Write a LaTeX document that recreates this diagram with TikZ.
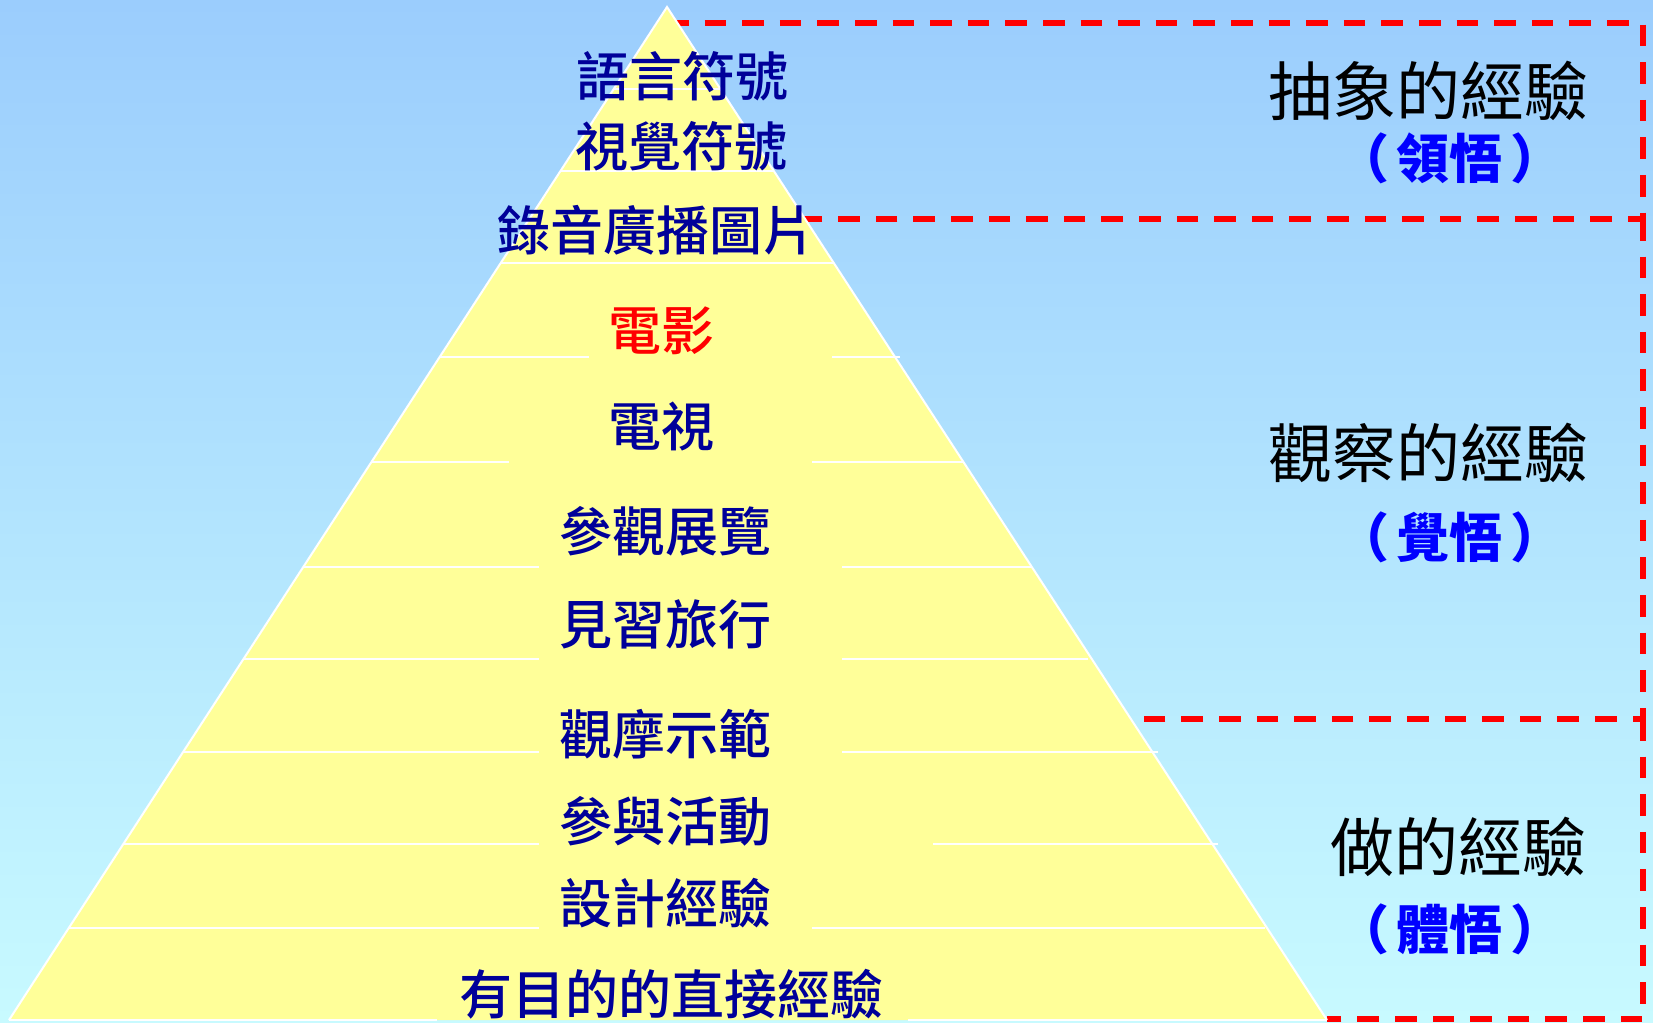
\documentclass[tikz,border=0pt]{standalone}
\usepackage{fontspec}
\setmainfont{Noto Sans CJK TC}
\IfFontExistsTF{Noto Sans CJK TC Medium}
  {\newfontfamily\lvlfont{Noto Sans CJK TC Medium}}
  {\newfontfamily\lvlfont{Noto Sans CJK TC}}
\usepackage{tikz}

\definecolor{skytop}{RGB}{155,205,253}
\definecolor{skybot}{RGB}{200,250,255}
\definecolor{pyryellow}{RGB}{255,255,153}
\definecolor{navy}{RGB}{0,0,153}

\begin{document}
\begin{tikzpicture}[x=0.5pt,y=-0.5pt,
  lvl/.style={inner sep=0pt, text=navy, font=\lvlfont\fontsize{26.5}{30}\selectfont},
  head/.style={inner sep=0pt, text=black, font=\fontsize{32}{36}\selectfont},
  note/.style={inner sep=0pt, text=blue, font=\fontsize{26.5}{30}\selectfont\bfseries},
  sep/.style={draw=white, line width=1.4pt},
  zone/.style={draw=red, line width=2.6pt, dash pattern=on 10.8pt off 8pt}]
\useasboundingbox (0,0) rectangle (1653,1022);
\shade[top color=skytop, bottom color=skybot] (0,0) rectangle (1653,1022);
% the three zones
\draw[zone] (667,23) -- (1643,23) -- (1643,219) -- (667,219);
\draw[zone] (1643,219) -- (1643,719) -- (667,719);
\draw[zone] (1643,719) -- (1643,1019) -- (1327,1019);
% pyramid
\fill[pyryellow] (667,7) -- (1327,1020) -- (9,1020) -- cycle;
\draw[white, line width=1pt] (9,1020) -- (667,7) -- (1327,1020);
\foreach \y/\a/\b/\c/\d in {89/614/667/667/720, 171/560/667/667/774,
  263/501/667/667/833, 357/440/589/832/900, 462/371/509/812/963,
  567/303/539/842/1031, 659/243/539/842/1088, 752/183/539/842/1158,
  844/123/539/933/1218, 928/69/539/812/1265, 1020/9/437/908/1327}
  \draw[sep] (\a,\y) -- (\b,\y) (\c,\y) -- (\d,\y);
% levels
\node[lvl] (yuyan) at (682,76) {語言符號};
\node[lvl] (shijue) at (681,146) {視覺符號};
\node[lvl] (luyin) at (656,230) {錄音廣播圖片};
\node[lvl, text=red] (dianying) at (661,331) {電影};
\node[lvl] (dianshi) at (661,426) {電視};
\node[lvl] (zhanlan) at (665,531) {參觀展覽};
\node[lvl] (lvxing) at (665,624) {見習旅行};
\node[lvl] (shifan) at (665,734) {觀摩示範};
\node[lvl] (huodong) at (665,821) {參與活動};
\node[lvl] (sheji) at (665,903) {設計經驗};
\node[lvl] (zhijie) at (671,994) {有目的的直接經驗};
% zone labels
\node[head] (chouxiang) at (1428,91) {抽象的經驗};
\node[note] (lingwu) at (1450,158) {（\hspace{0.15em}領悟\hspace{0.15em}）};
\node[head] (guancha) at (1428,453) {觀察的經驗};
\node[note] (juewu) at (1450,537) {（\hspace{0.15em}覺悟\hspace{0.15em}）};
\node[head] (zuo) at (1458,847) {做的經驗};
\node[note] (tiwu) at (1450,929) {（\hspace{0.15em}體悟\hspace{0.15em}）};
\end{tikzpicture}
\end{document}
